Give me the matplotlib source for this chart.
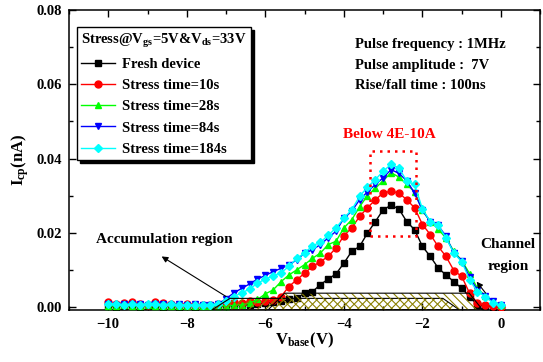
import matplotlib
matplotlib.use("Agg")
import matplotlib.pyplot as plt
from matplotlib.patches import Polygon, Rectangle
from matplotlib.ticker import MultipleLocator, FormatStrFormatter

plt.rcParams["font.family"] = "Liberation Serif"
plt.rcParams["font.weight"] = "bold"
plt.rcParams["axes.labelweight"] = "bold"
plt.rcParams["mathtext.fontset"] = "custom"
plt.rcParams["mathtext.rm"] = "Liberation Serif:bold"
plt.rcParams["mathtext.it"] = "Liberation Serif:bold"
plt.rcParams["mathtext.bf"] = "Liberation Serif:bold"
plt.rcParams["hatch.linewidth"] = 0.8

# Base voltage sweep (V)
vbase = [-10.0, -9.8, -9.6, -9.4, -9.2, -9.0, -8.8, -8.6, -8.4, -8.2,
         -8.0, -7.8, -7.6, -7.4, -7.2, -7.0, -6.8, -6.6, -6.4, -6.2,
         -6.0, -5.8, -5.6, -5.4, -5.2, -5.0, -4.8, -4.6, -4.4, -4.2,
         -4.0, -3.8, -3.6, -3.4, -3.2, -3.0, -2.8, -2.6, -2.4, -2.2,
         -2.0, -1.8, -1.6, -1.4, -1.2, -1.0, -0.8, -0.6, -0.4, -0.2, 0.0]

# Charge pumping current (nA)
icp_fresh = [0.0002, 0.0001, 0.0003, 0.0002, 0.0001, 0.0002, 0.0003, 0.0001, 0.0002, 0.0001,
             0.0002, 0.0001, 0.0002, 0.0003, 0.0002, 0.0003, 0.0004, 0.0005, 0.0006, 0.0008,
             0.0010, 0.0012, 0.0015, 0.0020, 0.0024, 0.0037, 0.0041, 0.0060, 0.0075, 0.0089,
             0.0118, 0.0150, 0.0163, 0.0199, 0.0230, 0.0262, 0.0274, 0.0264, 0.0230, 0.0208,
             0.0163, 0.0136, 0.0105, 0.0086, 0.0068, 0.0050, 0.0028, 0.0005, 0.0002, 0.0001, 0.0]
icp_10s = [0.0012, 0.0007, 0.0011, 0.0013, 0.0008, 0.0006, 0.0012, 0.0010, 0.0007, 0.0005,
           0.0008, 0.0006, 0.0004, 0.0006, 0.0008, 0.0010, 0.0013, 0.0011, 0.0015, 0.0012,
           0.0015, 0.0019, 0.0028, 0.0055, 0.0073, 0.0091, 0.0109, 0.0122, 0.0136, 0.0159,
           0.0192, 0.0213, 0.0244, 0.0267, 0.0289, 0.0307, 0.0312, 0.0307, 0.0289, 0.0267,
           0.0222, 0.0195, 0.0163, 0.0136, 0.0098, 0.0082, 0.0037, 0.0010, 0.0005, 0.0003, 0.0001]
icp_28s = [0.0003, 0.0002, 0.0004, 0.0003, 0.0002, 0.0004, 0.0003, 0.0002, 0.0003, 0.0002,
           0.0003, 0.0002, 0.0003, 0.0002, 0.0003, 0.0003, 0.0004, 0.0006, 0.0010, 0.0020,
           0.0035, 0.0046, 0.0068, 0.0086, 0.0100, 0.0114, 0.0131, 0.0145, 0.0168, 0.0177,
           0.0213, 0.0235, 0.0270, 0.0300, 0.0320, 0.0340, 0.0362, 0.0350, 0.0330, 0.0310,
           0.0260, 0.0230, 0.0210, 0.0185, 0.0150, 0.0125, 0.0090, 0.0050, 0.0030, 0.0015, 0.0005]
icp_84s = [0.0008, 0.0006, 0.0009, 0.0007, 0.0008, 0.0006, 0.0008, 0.0007, 0.0006, 0.0008,
           0.0005, 0.0007, 0.0006, 0.0006, 0.0008, 0.0022, 0.0038, 0.0050, 0.0062, 0.0075,
           0.0085, 0.0095, 0.0104, 0.0113, 0.0127, 0.0145, 0.0154, 0.0168, 0.0186, 0.0204,
           0.0239, 0.0258, 0.0289, 0.0310, 0.0330, 0.0348, 0.0370, 0.0360, 0.0340, 0.0307,
           0.0260, 0.0230, 0.0220, 0.0190, 0.0145, 0.0125, 0.0080, 0.0045, 0.0030, 0.0015, 0.0005]
icp_184s = [0.0007, 0.0009, 0.0005, 0.0008, 0.0006, 0.0009, 0.0007, 0.0006, 0.0008, 0.0005,
            0.0006, 0.0004, 0.0005, 0.0006, 0.0008, 0.0015, 0.0028, 0.0038, 0.0048, 0.0064,
            0.0075, 0.0084, 0.0092, 0.0109, 0.0131, 0.0145, 0.0165, 0.0174, 0.0193, 0.0213,
            0.0239, 0.0262, 0.0298, 0.0323, 0.0343, 0.0366, 0.0384, 0.0375, 0.0339, 0.0330,
            0.0264, 0.0230, 0.0221, 0.0186, 0.0145, 0.0122, 0.0073, 0.0041, 0.0028, 0.0010, 0.0005]

series = [
    ("Fresh device", icp_fresh, "black", "s"),
    ("Stress time=10s", icp_10s, "red", "o"),
    ("Stress time=28s", icp_28s, "#00ff00", "^"),
    ("Stress time=84s", icp_84s, "blue", "v"),
    ("Stress time=184s", icp_184s, "cyan", "D"),
]

ymin, ymax = -0.0008, 0.08

# Accumulation / channel region outlines (V, nA)
accum_x = [-7.36, -6.9, -1.48, -1.06]
accum_y = [ymin, 0.0023, 0.0023, ymin]
channel_x = [-5.93, -5.51, -0.81, -0.47]
channel_y = [ymin, 0.0037, 0.0037, ymin]

fig = plt.figure(figsize=(5.43, 3.62), dpi=100)
ax = fig.add_axes([0.127, 0.144, 0.868, 0.828])

for label, vals, color, marker in series:
    ax.plot(vbase, vals, color=color, marker=marker, ms=5 if marker != "D" else 4.3,
            lw=1, mec=color, mfc=color, label=label, zorder=3)

hatch_col = "#8b8000"
for xs, ys, h in [(accum_x, accum_y, "////"), (channel_x, channel_y, "\\\\\\\\")]:
    pts = list(zip(xs, ys))
    ax.add_patch(Polygon(pts, closed=True, fill=False, hatch=h, edgecolor=hatch_col,
                         lw=0, zorder=4))
    ax.add_patch(Polygon(pts, closed=True, fill=False, edgecolor="black", lw=0.8,
                         zorder=4))

# Marked peak window
ax.add_patch(Rectangle((-3.34, 0.019), 1.17, 0.023, fill=False, edgecolor="red",
                       lw=1.8, linestyle=(0, (1, 2)), zorder=5))
ax.text(-2.85, 0.0466, "Below 4E-10A", color="red", fontsize=11,
        ha="center", va="center")

ax.text(-3.73, 0.0708, "Pulse frequency : 1MHz", fontsize=10.5, va="center")
ax.text(-3.73, 0.0652, "Pulse amplitude :  7V", fontsize=10.5, va="center")
ax.text(-3.73, 0.0598, "Rise/fall time : 100ns", fontsize=10.5, va="center")

ax.text(-10.3, 0.0181, "Accumulation region", fontsize=11, va="center")
ax.annotate("", xy=(-8.64, 0.0136), xytext=(-7.0, 0.0028),
            arrowprops=dict(arrowstyle="-|>", color="black", lw=0.8,
                            mutation_scale=9, shrinkA=0, shrinkB=0), zorder=6)

ax.text(0.18, 0.0168, "Channel", fontsize=11, ha="center", va="center")
ax.text(0.18, 0.0110, "region", fontsize=11, ha="center", va="center")
ax.annotate("", xy=(-0.62, 0.0068), xytext=(-0.39, 0.0037),
            arrowprops=dict(arrowstyle="-|>", color="black", lw=0.8,
                            mutation_scale=9, shrinkA=0, shrinkB=0), zorder=6)

ax.set_xlim(-11, 1)
ax.set_ylim(ymin, ymax)
ax.xaxis.set_major_locator(MultipleLocator(2))
ax.xaxis.set_minor_locator(MultipleLocator(1))
ax.yaxis.set_major_locator(MultipleLocator(0.02))
ax.yaxis.set_minor_locator(MultipleLocator(0.01))
ax.yaxis.set_major_formatter(FormatStrFormatter("%.2f"))
ax.tick_params(which="both", direction="in", top=True, right=True, labelsize=10.5)
ax.tick_params(which="major", length=5, width=1)
ax.tick_params(which="minor", length=3, width=1)
ax.tick_params(axis="x", pad=6)
ax.tick_params(axis="y", pad=5)
for sp in ax.spines.values():
    sp.set_linewidth(1.1)

ax.set_xlabel(r"V$\mathregular{_{base}}$(V)", fontsize=12, labelpad=0)
ax.set_ylabel(r"I$\mathregular{_{cp}}$(nA)", fontsize=12, labelpad=4)

leg = ax.legend(loc="upper left", bbox_to_anchor=(0.017, 0.943), borderaxespad=0,
                title=r"Stress@V$\mathregular{_{gs}}$=5V&V$\mathregular{_{ds}}$=33V",
                title_fontproperties={"size": 10.5, "weight": "bold"},
                alignment="left", fontsize=10.5, handlelength=2.3, labelspacing=0.55,
                borderpad=0.3, handletextpad=0.5, fancybox=False,
                shadow={"color": "black", "alpha": 1}, framealpha=1)
leg.get_frame().set_edgecolor("black")
leg.get_frame().set_linewidth(1)

fig.savefig("out.png", dpi=100)
